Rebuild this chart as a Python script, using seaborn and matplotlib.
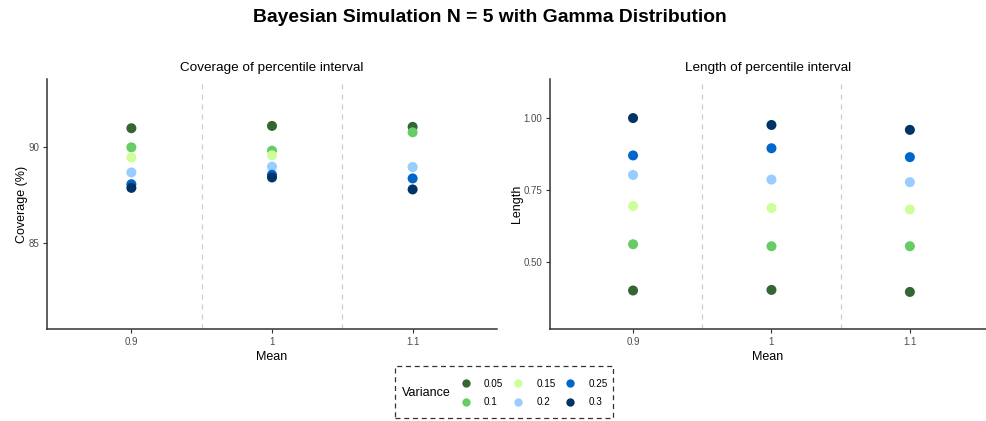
import matplotlib
matplotlib.use("Agg")
import matplotlib.pyplot as plt
import seaborn as sns
import pandas as pd
from matplotlib.patches import Rectangle
from matplotlib.lines import Line2D

means = ["0.9", "1", "1.1"]
variances = ["0.05", "0.1", "0.15", "0.2", "0.25", "0.3"]
colors = ["#336633", "#66CC66", "#CCFF99", "#99CCFF", "#0066CC", "#003366"]

# coverage (%) per variance, for means 0.9, 1, 1.1
coverage = {
    "0.05": [90.95, 91.07, 91.02],
    "0.1":  [89.96, 89.79, 90.74],
    "0.15": [89.44, 89.55, 88.93],
    "0.2":  [88.66, 88.96, 88.94],
    "0.25": [88.05, 88.54, 88.35],
    "0.3":  [87.86, 88.40, 87.78],
}
# interval length per variance, for means 0.9, 1, 1.1
length = {
    "0.05": [0.400, 0.402, 0.395],
    "0.1":  [0.561, 0.554, 0.554],
    "0.15": [0.694, 0.687, 0.682],
    "0.2":  [0.802, 0.786, 0.777],
    "0.25": [0.870, 0.895, 0.864],
    "0.3":  [1.000, 0.976, 0.959],
}

rows = []
for v in variances:
    for i, m in enumerate(means):
        rows.append({"Mean": m, "Variance": v, "Coverage": coverage[v][i], "Length": length[v][i]})
df = pd.DataFrame(rows)

sns.set_theme(style="white")
plt.rcParams["font.family"] = ["Liberation Sans", "DejaVu Sans"]
plt.rcParams["text.color"] = "black"

W, H = 986, 421
fig = plt.figure(figsize=(W / 100, H / 100), dpi=100)

def box(l, r, t, b):
    return [l / W, 1 - b / H, (r - l) / W, (b - t) / H]

ax1 = fig.add_axes(box(47, 497, 79, 329))
ax2 = fig.add_axes(box(550, 986, 79, 329))
palette = dict(zip(variances, colors))

for ax, col, ylab, title, ylim, yticks, ytl, xlim, lp in [
    (ax1, "Coverage", "Coverage (%)", "Coverage of percentile interval", (80.55, 93.5), [85, 90], ["85", "90"], (-0.6, 2.6), 0.0),
    (ax2, "Length", "Length", "Length of percentile interval", (0.266, 1.136), [0.5, 0.75, 1.0], ["0.50", "0.75", "1.00"], (-0.6, 2.55), 0.5),
]:
    for xv in [0.5, 1.5]:
        ax.axvline(xv, color="#CCCCCC", lw=0.9, ls=(0, (4, 4)), zorder=0)
    sns.scatterplot(data=df, x="Mean", y=col, hue="Variance", hue_order=variances,
                    palette=palette, s=52, edgecolor="none", linewidth=0, ax=ax,
                    legend=False, zorder=3)
    ax.set_xlim(*xlim)
    ax.set_ylim(*ylim)
    ax.set_xticks([0, 1, 2])
    ax.set_xticklabels(means)
    ax.set_yticks(yticks)
    ax.set_yticklabels(ytl)
    ax.set_xlabel("Mean", fontsize=9, color="black", labelpad=3.5)
    ax.set_ylabel(ylab, fontsize=9, color="black", labelpad=lp)
    ax.set_title(title, fontsize=9.7, color="black", pad=5.5)
    for s in ["top", "right"]:
        ax.spines[s].set_visible(False)
    for s in ["left", "bottom"]:
        ax.spines[s].set_color("#333333")
        ax.spines[s].set_linewidth(1.1)
    ax.tick_params(axis="both", which="both", direction="out", length=3, width=0.8,
                   color="#333333", labelcolor="#4D4D4D", labelsize=7, pad=2.5,
                   bottom=True, left=True)
    ax.grid(False)

fig.text(490 / W, 1 - 18 / H, "Bayesian Simulation N = 5 with Gamma Distribution",
         ha="center", va="center", fontsize=13.9, fontweight="bold")

# legend
handles = [Line2D([], [], ls="none", marker="o", markersize=6, markerfacecolor=c,
                  markeredgecolor="none") for c in colors]
fig.legend(handles, variances, ncol=3, loc="center left",
           bbox_to_anchor=(457 / W, 1 - 393 / H), frameon=False, fontsize=7.1,
           borderaxespad=0, handletextpad=1.33, columnspacing=1.02,
           labelspacing=0.86, handlelength=1.0)
fig.text(402 / W, 1 - 393 / H, "Variance", ha="left", va="center", fontsize=9)
fig.patches.append(Rectangle((395 / W, 1 - 418 / H), 218 / W, 52 / H, transform=fig.transFigure,
                             fill=False, ls=(0, (4, 3)), lw=0.9, edgecolor="#333333"))

fig.savefig("out.png", dpi=100)
